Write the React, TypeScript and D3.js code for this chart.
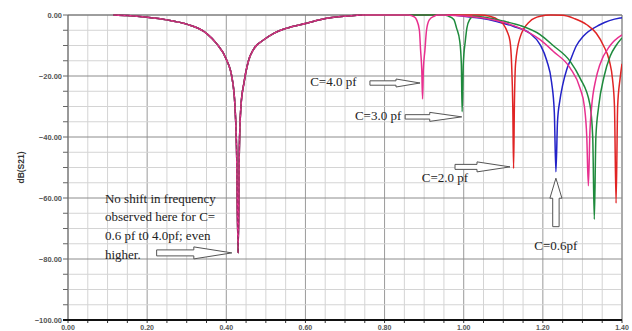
import * as d3 from 'd3';

// [frequency, dB(S21)]
const commonNotch: [number, number][] = [
  [0.115, 0], [0.15, -0.2], [0.2, -0.75], [0.25, -1.6], [0.3, -3], [0.35, -6],
  [0.375, -9.3], [0.4, -14.5], [0.415, -21], [0.422, -30], [0.426, -44],
  [0.430, -78], [0.433, -44], [0.437, -30], [0.445, -22], [0.455, -15.5],
  [0.47, -11], [0.494, -8.2], [0.52, -6], [0.553, -4.3], [0.603, -2.7],
  [0.654, -1.1], [0.7, -0.4], [0.75, 0],
];

const pinkPts: [number, number][] = [
  [0.86, 0], [0.875, -0.6], [0.881, -1.6], [0.888, -5], [0.891, -11.5], [0.894, -18],
  [0.896, -27.5], [0.898, -18], [0.902, -11.5], [0.906, -5], [0.913, -1.6],
  [0.925, -0.4], [0.935, 0], [1.0, -0.3], [1.05, -1], [1.1, -2.4], [1.142, -4.3],
  [1.193, -8.1], [1.226, -11.9], [1.269, -17.4], [1.294, -24], [1.305, -30],
  [1.311, -40], [1.315, -56], [1.319, -38], [1.323, -30.5], [1.334, -21],
  [1.344, -16.3], [1.37, -10], [1.4, -6.5],
];

const greenPts: [number, number][] = [
  [0.95, 0], [0.96, -0.3], [0.975, -1.5], [0.982, -4.3], [0.99, -8.6], [0.994, -16],
  [0.996, -31.7], [0.999, -16], [1.004, -8.6], [1.008, -4.3], [1.015, -1.5],
  [1.025, -0.4], [1.06, -0.9], [1.1, -2], [1.142, -3.4], [1.193, -6.4], [1.226, -10],
  [1.269, -15.2], [1.294, -20.7], [1.319, -29.4], [1.326, -40], [1.330, -67],
  [1.334, -40], [1.341, -30], [1.355, -20], [1.37, -13.5], [1.385, -10], [1.4, -7.5],
];

const redPts: [number, number][] = [
  [1.04, 0], [1.066, -0.4], [1.09, -1.8], [1.1, -3], [1.11, -5.5], [1.117, -8.6],
  [1.121, -16], [1.124, -30], [1.126, -50.3], [1.128, -30], [1.131, -16],
  [1.142, -7.5], [1.167, -2.1], [1.193, -0.4], [1.22, 0], [1.25, -0.1], [1.28, -1.2],
  [1.311, -3.2], [1.335, -6], [1.353, -10], [1.368, -15], [1.376, -21], [1.381, -30],
  [1.385, -61.7], [1.389, -30], [1.395, -21], [1.4, -16],
];

const bluePts: [number, number][] = [
  [0.97, 0], [1.0, -0.4], [1.04, -1], [1.083, -2.1], [1.125, -3.7], [1.167, -6],
  [1.193, -9.7], [1.21, -15], [1.222, -22], [1.229, -32], [1.233, -51.4],
  [1.237, -35], [1.243, -28], [1.25, -23], [1.26, -18], [1.269, -15], [1.285, -10],
  [1.302, -7], [1.344, -3.2], [1.395, -1], [1.4, -0.9],
];

const series = [
  { name: 'C=0.6pf', color: '#2222c8', pts: bluePts },
  { name: 'C=2.0pf', color: '#e02424', pts: redPts },
  { name: 'C=3.0pf', color: '#1e8a3c', pts: greenPts },
  { name: 'C=4.0pf', color: '#e8308f', pts: pinkPts },
];

const xTicks = [0, 0.2, 0.4, 0.6, 0.8, 1.0, 1.2, 1.4];
const yTicks = [0, -20, -40, -60, -80, -100];

export default function App() {
  const W = 632, H = 331;
  const m = { left: 68, right: 10, top: 15, bottom: 11 };
  const x = d3.scaleLinear().domain([0, 1.4]).range([m.left, W - m.right]);
  const y = d3.scaleLinear().domain([0, -100]).range([m.top, H - m.bottom]);
  const line = d3.line<[number, number]>().x(d => x(d[0])).y(d => y(d[1])).curve(d3.curveMonotoneX);

  const minorX = d3.range(0, 1.4001, 0.05);
  const minorY = d3.range(0, -100.001, -5);
  const isMajorX = (v: number) => Math.abs(v / 0.2 - Math.round(v / 0.2)) < 1e-6;
  const isMajorY = (v: number) => Math.abs(v % 20) < 1e-6;

  const arrowH = (f0: number, f1: number, db: number, h1: number, h2: number, L: number) => {
    const x0 = x(f0), x1 = x(f1), yy = y(db);
    return `M${x0},${yy - h1}L${x1 - L},${yy - h1}L${x1 - L},${yy - h2}L${x1},${yy}L${x1 - L},${yy + h2}L${x1 - L},${yy + h1}L${x0},${yy + h1}Z`;
  };
  const arrowUp = (f: number, db0: number, db1: number, h1: number, h2: number, L: number) => {
    const xx = x(f), y0 = y(db0), y1 = y(db1);
    return `M${xx - h1},${y0}L${xx - h1},${y1 + L}L${xx - h2},${y1 + L}L${xx},${y1}L${xx + h2},${y1 + L}L${xx + h1},${y1 + L}L${xx + h1},${y0}Z`;
  };

  const serif = '"Liberation Serif", "Times New Roman", serif';
  const sans = '"Liberation Sans", Arial, sans-serif';

  return (
    <svg width={W} height={H} style={{ position: 'absolute', left: 0, top: 0, background: '#fff' }}>
      <defs>
        <clipPath id="plot">
          <rect x={m.left} y={m.top - 2} width={x(1.4) - m.left} height={y(-100) - m.top + 2} />
        </clipPath>
      </defs>

      {/* grid */}
      {minorX.map(v => (
        <line key={'gx' + v} x1={x(v)} x2={x(v)} y1={y(0)} y2={y(-100)}
          stroke={isMajorX(v) ? '#9a9a9a' : '#d4d4d4'} strokeWidth={1} />
      ))}
      {minorY.map(v => (
        <line key={'gy' + v} x1={x(0)} x2={x(1.4)} y1={y(v)} y2={y(v)}
          stroke={isMajorY(v) ? '#8c8c8c' : '#d4d4d4'} strokeWidth={1} />
      ))}
      <line x1={x(1.4)} x2={x(1.4)} y1={y(0)} y2={y(-100)} stroke="#888" />
      <line x1={x(0)} x2={x(1.4)} y1={y(0)} y2={y(0)} stroke="#777" strokeWidth={1.2} />

      {/* curves */}
      <g clipPath="url(#plot)" fill="none" strokeLinejoin="round">
        {series.map(s => (
          <path key={s.name} d={line([...commonNotch, ...s.pts]) ?? ''} stroke={s.color} strokeWidth={1.5} />
        ))}
        <path d={line(commonNotch) ?? ''} stroke="#7a2250" strokeWidth={0.8} strokeDasharray="4,2" opacity={0.7} />
      </g>

      {/* axes */}
      <line x1={x(0)} x2={x(0)} y1={y(0)} y2={y(-100)} stroke="#666" />
      {minorY.map(v => (
        <line key={'ty' + v} x1={x(0) - 5} x2={x(0)} y1={y(v)} y2={y(v)} stroke="#666" />
      ))}
      {minorX.map(v => (
        <line key={'tx' + v} x1={x(v)} x2={x(v)} y1={y(-100)} y2={y(-100) + 3} stroke="#333" />
      ))}
      <line x1={x(0) - 5} x2={x(1.4)} y1={y(-100)} y2={y(-100)} stroke="#111" strokeWidth={2} />

      {yTicks.map(v => (
        <text key={'yl' + v} x={x(0) - 6} y={y(v)} dy="0.35em" textAnchor="end"
          fontFamily={sans} fontSize={7.5} fontWeight="bold" fill="#555">{d3.format('.2f')(v)}</text>
      ))}
      {xTicks.map(v => (
        <text key={'xl' + v} x={x(v)} y={y(-100) + 9.5} textAnchor="middle"
          fontFamily={sans} fontSize={7} fontWeight="bold" fill="#555">{d3.format('.2f')(v)}</text>
      ))}
      <text transform={`translate(24,${y(-50)}) rotate(-90)`} textAnchor="middle"
        fontFamily={sans} fontSize={8.5} fontWeight="bold" fill="#333">dB(S21)</text>

      {/* annotations */}
      <g fontFamily={serif} fontSize={13} fill="#222">
        <text x={x(0.612)} y={y(-23.3)}>C=4.0 pf</text>
        <text x={x(0.725)} y={y(-34.4)}>C=3.0 pf</text>
        <text x={x(0.894)} y={y(-54.8)}>C=2.0 pf</text>
        <text x={x(1.233)} y={y(-77)} textAnchor="middle">C=0.6pf</text>
        <text x={x(0.0935)} y={y(-61.5)}>No shift in frequency</text>
        <text x={x(0.0935)} y={y(-67.7)}>observed here for C=</text>
        <text x={x(0.0935)} y={y(-73.9)}>0.6 pf t0 4.0pf; even</text>
        <text x={x(0.0935)} y={y(-80)}>higher.</text>
      </g>
      <g fill="#fff" stroke="#555" strokeWidth={1}>
        <path d={arrowH(0.763, 0.8896, -22.3, 2.2, 4, 24)} />
        <path d={arrowH(0.852, 0.995, -33.4, 2.2, 4.5, 32)} />
        <path d={arrowH(0.978, 1.117, -49.8, 2.5, 5, 33)} />
        <path d={arrowH(0.224, 0.414, -78, 3, 6, 38)} />
        <path d={arrowUp(1.233, -69.4, -53.5, 3.2, 6, 20)} />
      </g>
    </svg>
  );
}
